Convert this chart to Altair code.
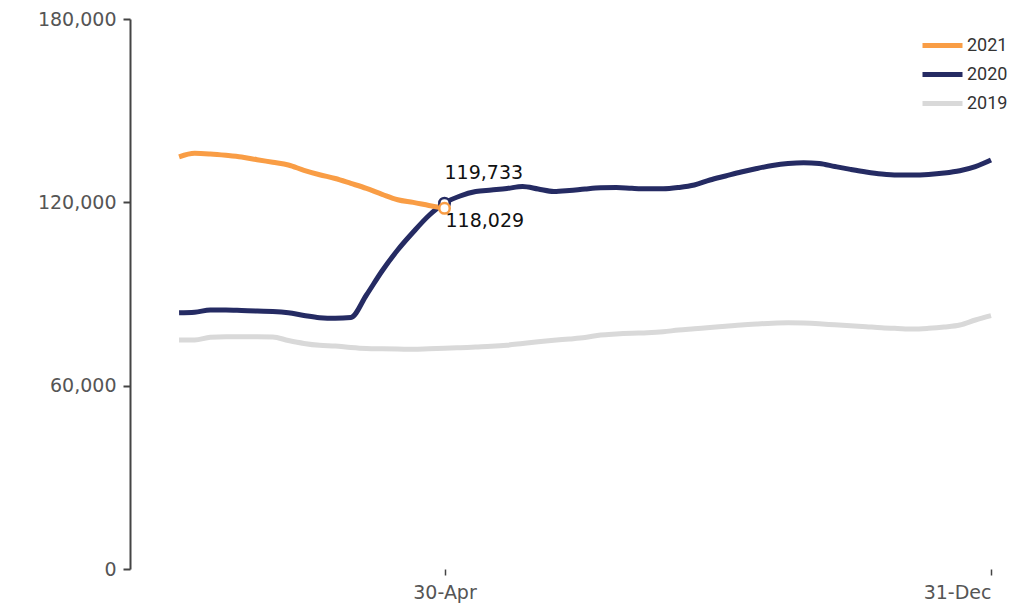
import altair as alt
import pandas as pd

# ---- data ----
series_names = ["2021", "2020", "2019"]
series_colors = ["#F99D45", "#252B63", "#D9D9D9"]

# weekly points plotted on a common (2020) calendar
week_dates = pd.date_range("2020-01-02", periods=53, freq="7D")

values_2021 = [134900, 136050, 135820, 135390, 134840, 133950, 133100, 132220,
               130480, 129040, 127800, 126200, 124560, 122630, 120860, 119980,
               118960, 118029]

values_2020 = [83880, 84040, 84760, 84760, 84600, 84400, 84270, 83850, 82960,
               82240, 82050, 82310, 89670, 97530, 104400, 110290, 115690, 119733,
               122070, 123545, 124035, 124530, 125180, 124360, 123545, 123870,
               124360, 124755, 124855, 124590, 124430, 124430, 124855, 125670,
               127310, 128620, 129925, 131070, 132055, 132710, 132970, 132710,
               131730, 130780, 129925, 129270, 128945, 128945, 129140, 129600,
               130350, 131690, 133850]

values_2019 = [74945, 74945, 75860, 76025, 76025, 76025, 75930, 74780, 73830,
               73210, 72980, 72490, 72160, 72060, 72000, 71900, 72060, 72230,
               72425, 72655, 72880, 73240, 73800, 74355, 74850, 75270, 75760,
               76580, 76910, 77140, 77300, 77630, 78220, 78610, 79035, 79430,
               79855, 80180, 80445, 80575, 80475, 80245, 79920, 79625, 79300,
               78970, 78740, 78545, 78775, 79200, 79855, 81490, 82900]

y_ticks = [0, 60000, 120000, 180000]

rows = []
for name, vals in [("2019", values_2019), ("2020", values_2020), ("2021", values_2021)]:
    for d, v in zip(week_dates, vals):
        rows.append({"date": d, "value": v, "series": name})
df = pd.DataFrame(rows)

ann = pd.DataFrame({
    "date": [week_dates[len(values_2021) - 1]] * 2,
    "value": [values_2020[len(values_2021) - 1], values_2021[-1]],
    "series": ["2020", "2021"],
})

FONT = "DejaVu Sans"

color = alt.Color(
    "series:N",
    scale=alt.Scale(domain=series_names, range=series_colors),
    legend=alt.Legend(
        title=None,
        orient="none",
        legendX=800,
        legendY=14,
        symbolType="M-2,0H2",
        symbolSize=400,
        symbolStrokeWidth=5,
        labelFont="Roboto",
        labelFontSize=18,
        labelColor="#333333",
        labelOffset=12,
        rowPadding=6,
    ),
)

x = alt.X(
    "date:T",
    scale=alt.Scale(domain=[alt.DateTime(year=2019, month=12, date=11),
                            alt.DateTime(year=2020, month=12, date=31)]),
    axis=alt.Axis(
        values=[alt.DateTime(year=2020, month=4, date=30),
                alt.DateTime(year=2020, month=12, date=31)],
        format="%d-%b",
        title=None,
        domain=False,
        grid=False,
        tickSize=6,
        tickColor="#444444",
        tickWidth=1.5,
        labelFont=FONT,
        labelFontSize=19,
        labelColor="#555555",
        labelPadding=8,
    ),
)

y = alt.Y(
    "value:Q",
    scale=alt.Scale(domain=[0, 180000]),
    axis=alt.Axis(
        values=y_ticks,
        format=",.0f",
        title=None,
        grid=False,
        domainColor="#444444",
        domainWidth=2,
        tickColor="#444444",
        tickWidth=2,
        tickSize=7,
        labelPadding=7,
        labelFont=FONT,
        labelFontSize=19,
        labelColor="#555555",
    ),
)

lines = alt.Chart(df).mark_line(strokeWidth=5, interpolate="monotone").encode(
    x=x, y=y, color=color
)

points = alt.Chart(ann).mark_point(
    filled=False, fill="white", fillOpacity=1, size=110, strokeWidth=2.5, opacity=1
).encode(
    x="date:T", y="value:Q",
    color=alt.Color("series:N", scale=alt.Scale(domain=series_names, range=series_colors), legend=None),
)

text_2020 = alt.Chart(ann).transform_filter(alt.datum.series == "2020").mark_text(
    align="left", baseline="middle", dx=0, dy=-30, font=FONT, fontSize=19, color="#111111"
).encode(x="date:T", y="value:Q", text=alt.Text("value:Q", format=","))

text_2021 = alt.Chart(ann).transform_filter(alt.datum.series == "2021").mark_text(
    align="left", baseline="middle", dx=1, dy=13, font=FONT, fontSize=19, color="#111111"
).encode(x="date:T", y="value:Q", text=alt.Text("value:Q", format=","))

chart = alt.layer(lines, points, text_2020, text_2021).properties(
    width=861,
    height=550,
    autosize=alt.AutoSizeParams(type="none"),
    padding={"left": 122, "top": 11, "right": 34, "bottom": 36},
).configure_view(stroke=None)

chart.save("out.html", embed_options={"renderer": "svg", "actions": False})
